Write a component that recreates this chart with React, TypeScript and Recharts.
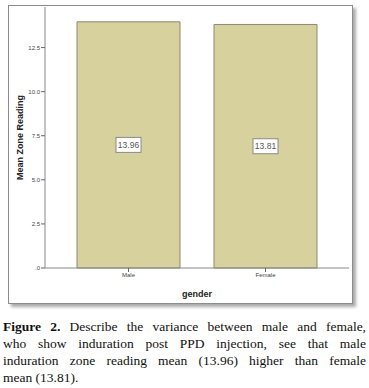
import { BarChart, Bar, XAxis, YAxis, LabelList, Label } from "recharts";

const genders = ["Male", "Female"];
const meanReadings = [13.96, 13.81];
const yTicks = [0, 2.5, 5, 7.5, 10, 12.5];
const captionLines = [
  "Describe the variance between male and female,",
  "who show induration post PPD injection, see that male",
  "induration zone reading mean (13.96) higher than female",
  "mean (13.81).",
];

const data = genders.map((g, i) => ({ gender: g, mean: meanReadings[i] }));

const fmtTick = (v: number) => (v === 0 ? ".0" : v.toFixed(1));

const ValueBox = (props: any) => {
  const { x, y, width, height, value } = props;
  const cx = x + width / 2;
  const cy = y + height / 2;
  return (
    <g>
      <rect x={cx - 12.5} y={cy - 7.5} width={25} height={15} fill="#fff" stroke="#8a8a8a" strokeWidth={1} />
      <text x={cx} y={cy + 3} textAnchor="middle" fontSize={8.5} fill="#555" fontFamily="'Liberation Sans', Arial">
        {value.toFixed(2)}
      </text>
    </g>
  );
};

export default function App() {
  return (
    <div style={{ position: "absolute", left: 0, top: 0, width: 369, height: 388, background: "#fff" }}>
      <div
        style={{
          position: "absolute",
          left: 8,
          top: 5,
          width: 343,
          height: 297,
          border: "1px solid #8c8c8c",
          boxShadow: "3px 3px 3px #aaa",
          background: "#fff",
        }}
      >
        <BarChart
          width={343}
          height={297}
          data={data}
          margin={{ top: 1, right: 3, left: 0, bottom: 0 }}
          style={{ fontFamily: "'Liberation Sans', Arial" }}
        >
          <XAxis
            dataKey="gender"
            height={35}
            padding={{ left: 15, right: 15 }}
            tickSize={4}
            tickMargin={1}
            tick={{ fontSize: 6, fill: "#444" }}
            axisLine={{ stroke: "#888" }}
            tickLine={{ stroke: "#666" }}
          >
            <Label value="gender" position="insideBottom" offset={6} style={{ fontSize: 9, fontWeight: "bold", fill: "#222" }} />
          </XAxis>
          <XAxis xAxisId="top" dataKey="gender" orientation="top" height={0} tick={false} tickLine={false} axisLine={{ stroke: "#888" }} />
          <YAxis
            width={36}
            domain={[0, 14.8]}
            ticks={yTicks}
            tickFormatter={fmtTick}
            tickSize={4}
            tickMargin={1}
            tick={{ fontSize: 6, fill: "#444" }}
            axisLine={{ stroke: "#888" }}
            tickLine={{ stroke: "#666" }}
          >
            <Label
              value="Mean Zone Reading"
              angle={-90}
              position="insideLeft"
              offset={11}
              style={{ fontSize: 9, fontWeight: "bold", fill: "#222", textAnchor: "middle" }}
            />
          </YAxis>
          <YAxis yAxisId="right" orientation="right" width={0} domain={[0, 14.8]} tick={false} tickLine={false} axisLine={{ stroke: "#888" }} />
          <Bar dataKey="mean" barSize={103} fill="#d6d19d" stroke="#8a8a74" strokeWidth={1} isAnimationActive={false}>
            <LabelList dataKey="mean" content={ValueBox} />
          </Bar>
        </BarChart>
      </div>
      <div
        style={{
          position: "absolute",
          left: 3,
          top: 318,
          width: 363,
          fontFamily: "'Liberation Serif', 'Times New Roman', serif",
          fontSize: 13.5,
          lineHeight: "17px",
          color: "#111",
        }}
      >
        {captionLines.map((line, i) => (
          <div
            key={i}
            style={{
              textAlign: "justify",
              textAlignLast: i < captionLines.length - 1 ? "justify" : "left",
              whiteSpace: "nowrap",
            }}
          >
            {i === 0 && <b>Figure 2. </b>}
            {line}
          </div>
        ))}
      </div>
    </div>
  );
}
